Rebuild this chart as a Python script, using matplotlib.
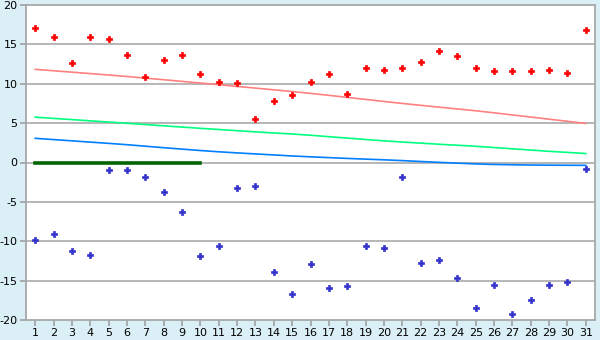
import numpy as np
import matplotlib
matplotlib.use('Agg')
import matplotlib.pyplot as plt

plt.rcParams['axes.unicode_minus'] = False
plt.rcParams['font.family'] = ['DejaVu Sans']

days = list(range(1, 32))

high = [17.1, 16.0, 12.6, 16.0, 15.7, 13.6, 10.8, 13.0, 13.6, 11.2,
        10.2, 10.1, 5.5, 7.8, 8.6, 10.2, 11.2, 8.7, 12.0, 11.7,
        12.0, 12.8, 14.2, 13.5, 12.0, 11.6, 11.6, 11.6, 11.8, 11.4, 16.8]
low = [-9.8, -9.1, -11.2, -11.7, -0.9, -0.9, -1.8, -3.8, -6.3, -11.9,
       -10.6, -3.3, -3.0, -13.9, -16.7, -12.9, -15.9, -15.7, -10.6, -10.9,
       -1.8, -12.7, -12.4, -14.7, -18.5, -15.6, -19.3, -17.5, -15.6, -15.2, -0.8]

trend_high = [11.83, 11.65, 11.47, 11.29, 11.11, 10.92, 10.72, 10.51, 10.30, 10.09,
              9.88, 9.66, 9.45, 9.23, 9.01, 8.78, 8.53, 8.27, 8.01, 7.75,
              7.50, 7.26, 7.03, 6.80, 6.57, 6.31, 6.04, 5.77, 5.50, 5.23, 4.96]
trend_mean = [5.76, 5.60, 5.45, 5.29, 5.14, 4.98, 4.82, 4.66, 4.50, 4.34,
              4.19, 4.04, 3.89, 3.75, 3.62, 3.46, 3.28, 3.10, 2.92, 2.75,
              2.60, 2.46, 2.32, 2.19, 2.06, 1.90, 1.74, 1.58, 1.42, 1.28, 1.14]
trend_low = [3.07, 2.91, 2.75, 2.59, 2.43, 2.26, 2.07, 1.88, 1.70, 1.52,
             1.36, 1.22, 1.09, 0.96, 0.83, 0.72, 0.62, 0.52, 0.43, 0.34,
             0.24, 0.13, 0.02, -0.08, -0.18, -0.25, -0.29, -0.32, -0.34, -0.35, -0.36]
zero_days = [1, 10]
zero_vals = [0, 0]

fig = plt.figure(figsize=(6, 3.4), dpi=100, facecolor='#daeff6')
ax = fig.add_axes([26/600, 1-320/340, (595-26)/600, (320-5)/340])
ax.set_facecolor('white')

for yv in range(-15, 20, 5):
    ax.axhline(yv, color='#b0b0b0', lw=1.3, zorder=1)

ax.plot(days, trend_high, color='#ff8080', lw=1.2, zorder=2)
ax.plot(days, trend_mean, color='#00ff80', lw=1.2, zorder=2)
ax.plot(days, trend_low, color='#0080ff', lw=1.2, zorder=2)
ax.plot(zero_days, zero_vals, color='#006400', lw=2.6, zorder=3)

ax.plot(days, high, ls='none', marker='P', ms=5, color='#ff0000',
        markeredgewidth=0.5, markeredgecolor='#ff0000', zorder=4)
ax.plot(days, low, ls='none', marker='P', ms=4.5, color='#3333cc',
        markeredgewidth=0.5, markeredgecolor='#3333cc', zorder=4)

ax.set_xlim(0.5, 31.5)
ax.set_ylim(-20, 20)
ax.set_xticks(days)
ax.set_yticks(range(-20, 25, 5))
ax.tick_params(colors='#a0a0a0', labelcolor='black', labelsize=8,
               length=4, width=1.2, pad=2)
for s in ax.spines.values():
    s.set_color('#a8a8a8')
    s.set_linewidth(1.3)

fig.savefig('out.png', dpi=100, facecolor=fig.get_facecolor())
